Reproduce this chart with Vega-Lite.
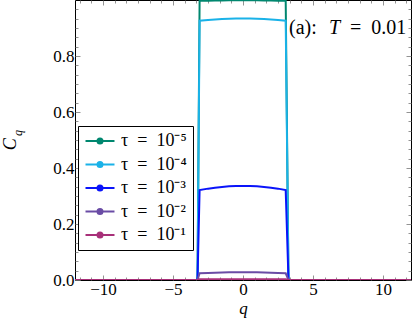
{
  "$schema": "https://vega.github.io/schema/vega-lite/v6.json",
  "width": 336,
  "height": 280,
  "autosize": "none",
  "padding": {"left": 75, "top": 0, "right": 1, "bottom": 49},
  "background": "white",
  "config": {
    "view": {"stroke": "#000", "strokeWidth": 1},
    "font": "Liberation Serif",
    "axis": {"grid": false, "labelFont": "Liberation Serif", "labelFontSize": 17, "labelColor": "#000", "titleFont": "Liberation Serif", "domain": false, "tickColor": "#777", "tickWidth": 0.8}
  },
  "datasets": {
    "curves": [
      {"tau": "τ\u2002=\u200210⁻⁵", "q": -12, "C": 0},
      {"tau": "τ\u2002=\u200210⁻⁵", "q": -3.25, "C": 0},
      {"tau": "τ\u2002=\u200210⁻⁵", "q": -3.1, "C": 0.997},
      {"tau": "τ\u2002=\u200210⁻⁵", "q": -2.5, "C": 0.9977},
      {"tau": "τ\u2002=\u200210⁻⁵", "q": -2, "C": 0.9982},
      {"tau": "τ\u2002=\u200210⁻⁵", "q": -1.5, "C": 0.9985},
      {"tau": "τ\u2002=\u200210⁻⁵", "q": -1, "C": 0.9988},
      {"tau": "τ\u2002=\u200210⁻⁵", "q": -0.5, "C": 0.9989},
      {"tau": "τ\u2002=\u200210⁻⁵", "q": 0, "C": 0.999},
      {"tau": "τ\u2002=\u200210⁻⁵", "q": 0.5, "C": 0.9989},
      {"tau": "τ\u2002=\u200210⁻⁵", "q": 1, "C": 0.9988},
      {"tau": "τ\u2002=\u200210⁻⁵", "q": 1.5, "C": 0.9985},
      {"tau": "τ\u2002=\u200210⁻⁵", "q": 2, "C": 0.9982},
      {"tau": "τ\u2002=\u200210⁻⁵", "q": 2.5, "C": 0.9977},
      {"tau": "τ\u2002=\u200210⁻⁵", "q": 3.05, "C": 0.997},
      {"tau": "τ\u2002=\u200210⁻⁵", "q": 3.25, "C": 0},
      {"tau": "τ\u2002=\u200210⁻⁵", "q": 12, "C": 0},
      {"tau": "τ\u2002=\u200210⁻⁴", "q": -12, "C": 0},
      {"tau": "τ\u2002=\u200210⁻⁴", "q": -3.25, "C": 0},
      {"tau": "τ\u2002=\u200210⁻⁴", "q": -3.1, "C": 0.926},
      {"tau": "τ\u2002=\u200210⁻⁴", "q": -2.5, "C": 0.9288},
      {"tau": "τ\u2002=\u200210⁻⁴", "q": -2, "C": 0.9307},
      {"tau": "τ\u2002=\u200210⁻⁴", "q": -1.5, "C": 0.9321},
      {"tau": "τ\u2002=\u200210⁻⁴", "q": -1, "C": 0.9332},
      {"tau": "τ\u2002=\u200210⁻⁴", "q": -0.5, "C": 0.9338},
      {"tau": "τ\u2002=\u200210⁻⁴", "q": 0, "C": 0.934},
      {"tau": "τ\u2002=\u200210⁻⁴", "q": 0.5, "C": 0.9338},
      {"tau": "τ\u2002=\u200210⁻⁴", "q": 1, "C": 0.9332},
      {"tau": "τ\u2002=\u200210⁻⁴", "q": 1.5, "C": 0.9321},
      {"tau": "τ\u2002=\u200210⁻⁴", "q": 2, "C": 0.9307},
      {"tau": "τ\u2002=\u200210⁻⁴", "q": 2.5, "C": 0.9288},
      {"tau": "τ\u2002=\u200210⁻⁴", "q": 3.05, "C": 0.926},
      {"tau": "τ\u2002=\u200210⁻⁴", "q": 3.25, "C": 0},
      {"tau": "τ\u2002=\u200210⁻⁴", "q": 12, "C": 0},
      {"tau": "τ\u2002=\u200210⁻³", "q": -12, "C": 0},
      {"tau": "τ\u2002=\u200210⁻³", "q": -3.25, "C": 0},
      {"tau": "τ\u2002=\u200210⁻³", "q": -3.1, "C": 0.321},
      {"tau": "τ\u2002=\u200210⁻³", "q": -2.5, "C": 0.3263},
      {"tau": "τ\u2002=\u200210⁻³", "q": -2, "C": 0.3298},
      {"tau": "τ\u2002=\u200210⁻³", "q": -1.5, "C": 0.3325},
      {"tau": "τ\u2002=\u200210⁻³", "q": -1, "C": 0.3344},
      {"tau": "τ\u2002=\u200210⁻³", "q": -0.5, "C": 0.3356},
      {"tau": "τ\u2002=\u200210⁻³", "q": 0, "C": 0.336},
      {"tau": "τ\u2002=\u200210⁻³", "q": 0.5, "C": 0.3356},
      {"tau": "τ\u2002=\u200210⁻³", "q": 1, "C": 0.3344},
      {"tau": "τ\u2002=\u200210⁻³", "q": 1.5, "C": 0.3325},
      {"tau": "τ\u2002=\u200210⁻³", "q": 2, "C": 0.3298},
      {"tau": "τ\u2002=\u200210⁻³", "q": 2.5, "C": 0.3263},
      {"tau": "τ\u2002=\u200210⁻³", "q": 3.05, "C": 0.321},
      {"tau": "τ\u2002=\u200210⁻³", "q": 3.25, "C": 0},
      {"tau": "τ\u2002=\u200210⁻³", "q": 12, "C": 0},
      {"tau": "τ\u2002=\u200210⁻²", "q": -12, "C": 0},
      {"tau": "τ\u2002=\u200210⁻²", "q": -3.25, "C": 0},
      {"tau": "τ\u2002=\u200210⁻²", "q": -3.1, "C": 0.024},
      {"tau": "τ\u2002=\u200210⁻²", "q": -2.5, "C": 0.0254},
      {"tau": "τ\u2002=\u200210⁻²", "q": -2, "C": 0.0263},
      {"tau": "τ\u2002=\u200210⁻²", "q": -1.5, "C": 0.0271},
      {"tau": "τ\u2002=\u200210⁻²", "q": -1, "C": 0.0276},
      {"tau": "τ\u2002=\u200210⁻²", "q": -0.5, "C": 0.0279},
      {"tau": "τ\u2002=\u200210⁻²", "q": 0, "C": 0.028},
      {"tau": "τ\u2002=\u200210⁻²", "q": 0.5, "C": 0.0279},
      {"tau": "τ\u2002=\u200210⁻²", "q": 1, "C": 0.0276},
      {"tau": "τ\u2002=\u200210⁻²", "q": 1.5, "C": 0.0271},
      {"tau": "τ\u2002=\u200210⁻²", "q": 2, "C": 0.0263},
      {"tau": "τ\u2002=\u200210⁻²", "q": 2.5, "C": 0.0254},
      {"tau": "τ\u2002=\u200210⁻²", "q": 3.05, "C": 0.024},
      {"tau": "τ\u2002=\u200210⁻²", "q": 3.25, "C": 0},
      {"tau": "τ\u2002=\u200210⁻²", "q": 12, "C": 0},
      {"tau": "τ\u2002=\u200210⁻¹", "q": -12, "C": 0},
      {"tau": "τ\u2002=\u200210⁻¹", "q": -3.25, "C": 0},
      {"tau": "τ\u2002=\u200210⁻¹", "q": -3.1, "C": 0.0025},
      {"tau": "τ\u2002=\u200210⁻¹", "q": -2, "C": 0.0027},
      {"tau": "τ\u2002=\u200210⁻¹", "q": -1, "C": 0.0029},
      {"tau": "τ\u2002=\u200210⁻¹", "q": 0, "C": 0.003},
      {"tau": "τ\u2002=\u200210⁻¹", "q": 1, "C": 0.0029},
      {"tau": "τ\u2002=\u200210⁻¹", "q": 2, "C": 0.0027},
      {"tau": "τ\u2002=\u200210⁻¹", "q": 3.05, "C": 0.0025},
      {"tau": "τ\u2002=\u200210⁻¹", "q": 3.25, "C": 0},
      {"tau": "τ\u2002=\u200210⁻¹", "q": 12, "C": 0}
    ]
  },
  "layer": [
    {
      "data": {"name": "curves"},
      "mark": {"type": "line", "strokeWidth": 2, "clip": true},
      "encoding": {
        "x": {"field": "q", "type": "quantitative", "scale": {"domain": [-12, 12], "nice": false, "zero": false},
          "axis": {"orient": "bottom", "values": [-10, -5, 0, 5, 10], "tickSize": -5, "labelPadding": 6, "labelExpr": "replace(datum.label, '-', '−')", "title": "q", "titleFontStyle": "italic", "titleFontWeight": "normal", "titleFontSize": 17, "titlePadding": 3}},
        "y": {"field": "C", "type": "quantitative", "scale": {"domain": [0, 1], "nice": false},
          "axis": {"orient": "left", "values": [0, 0.2, 0.4, 0.6, 0.8], "tickSize": -5, "labelPadding": 6, "title": null}},
        "color": {"field": "tau", "type": "nominal",
          "scale": {"domain": ["τ\u2002=\u200210⁻⁵", "τ\u2002=\u200210⁻⁴", "τ\u2002=\u200210⁻³", "τ\u2002=\u200210⁻²", "τ\u2002=\u200210⁻¹"], "range": ["#00876f", "#1ab2e8", "#0a14fa", "#6a4ca5", "#a83079"]},
          "legend": {"title": null, "orient": "none", "legendX": 3, "legendY": 126, "direction": "vertical",
            "strokeColor": "#000", "fillColor": "#fff", "padding": 6, "labelFont": "Liberation Serif", "labelFontSize": 18, "labelColor": "#000",
            "symbolType": "M-2,0L2,0M0.345,0A0.345,0.345,0,1,1,-0.345,0A0.345,0.345,0,1,1,0.345,0Z",
            "symbolSize": 210, "symbolStrokeWidth": 2, "symbolOffset": 7, "labelOffset": 12, "rowPadding": 5.5,
            "encode": {"symbols": {"update": {"fill": {"scale": "color", "field": "value"}}}}}
        }
      }
    },
    {
      "data": {"values": [{}]},
      "mark": {"type": "text", "fontSize": 20, "align": "left", "baseline": "middle", "font": "Liberation Serif"},
      "encoding": {
        "text": {"value": "(a):"},
        "x": {"datum": 3.286, "type": "quantitative", "axis": {"orient": "top", "values": [-10, -5, 0, 5, 10], "tickSize": -5, "labels": false, "title": null}},
        "y": {"datum": 0.9, "type": "quantitative", "axis": {"orient": "right", "values": [0, 0.2, 0.4, 0.6, 0.8], "tickSize": -5, "labels": false, "title": null}}
      }
    },
    {
      "data": {"values": [{}]},
      "mark": {"type": "text", "fontSize": 20, "align": "left", "baseline": "middle", "font": "Liberation Serif", "fontStyle": "italic"},
      "encoding": {
        "text": {"value": "T"},
        "x": {"datum": 6.143, "type": "quantitative", "axis": {"orient": "bottom", "values": [-11.667, -10.833, -9.167, -8.333, -7.5, -6.667, -5.833, -4.167, -3.333, -2.5, -1.667, -0.833, 0.833, 1.667, 2.5, 3.333, 4.167, 5.833, 6.667, 7.5, 8.333, 9.167, 10.833, 11.667], "tickSize": -3, "labels": false, "title": null}},
        "y": {"datum": 0.9, "type": "quantitative", "axis": {"orient": "left", "values": [0.0333, 0.0667, 0.1, 0.1333, 0.1667, 0.2333, 0.2667, 0.3, 0.3333, 0.3667, 0.4333, 0.4667, 0.5, 0.5333, 0.5667, 0.6333, 0.6667, 0.7, 0.7333, 0.7667, 0.8333, 0.8667, 0.9, 0.9333, 0.9667], "tickSize": -3, "labels": false, "title": null}}
      }
    },
    {
      "data": {"values": [{}]},
      "mark": {"type": "text", "fontSize": 20, "align": "left", "baseline": "middle", "font": "Liberation Serif"},
      "encoding": {
        "text": {"value": "=\u20020.01"},
        "x": {"datum": 7.643, "type": "quantitative", "axis": {"orient": "top", "values": [-11.667, -10.833, -9.167, -8.333, -7.5, -6.667, -5.833, -4.167, -3.333, -2.5, -1.667, -0.833, 0.833, 1.667, 2.5, 3.333, 4.167, 5.833, 6.667, 7.5, 8.333, 9.167, 10.833, 11.667], "tickSize": -3, "labels": false, "title": null}},
        "y": {"datum": 0.9, "type": "quantitative", "axis": {"orient": "right", "values": [0.0333, 0.0667, 0.1, 0.1333, 0.1667, 0.2333, 0.2667, 0.3, 0.3333, 0.3667, 0.4333, 0.4667, 0.5, 0.5333, 0.5667, 0.6333, 0.6667, 0.7, 0.7333, 0.7667, 0.8333, 0.8667, 0.9, 0.9333, 0.9667], "tickSize": -3, "labels": false, "title": null}}
      }
    },
    {
      "data": {"values": [{}]},
      "mark": {"type": "text", "fontSize": 18, "align": "center", "baseline": "middle", "font": "Liberation Serif", "fontStyle": "italic", "angle": 270},
      "encoding": {
        "text": {"value": "C"},
        "x": {"datum": -16.57, "type": "quantitative", "axis": null},
        "y": {"datum": 0.485, "type": "quantitative", "axis": null}
      }
    },
    {
      "data": {"values": [{}]},
      "mark": {"type": "text", "fontSize": 12, "align": "center", "baseline": "middle", "font": "Liberation Serif", "fontStyle": "italic", "angle": 270},
      "encoding": {
        "text": {"value": "q"},
        "x": {"datum": -16.1, "type": "quantitative", "axis": null},
        "y": {"datum": 0.525, "type": "quantitative", "axis": null}
      }
    }
  ]
}
